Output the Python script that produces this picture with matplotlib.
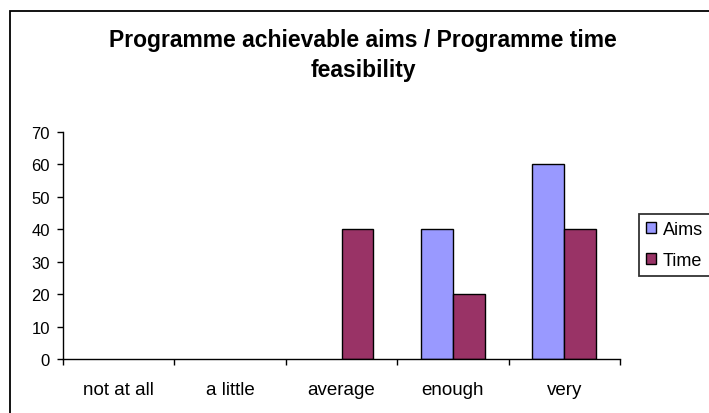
import numpy as np
import matplotlib.pyplot as plt
from matplotlib.patches import Rectangle, Patch

# dados
categories = ["not at all", "a little", "average", "enough", "very"]
aims = [0, 0, 0, 40, 60]
time_vals = [0, 0, 40, 20, 40]

plt.rcParams['font.family'] = ['Liberation Sans', 'DejaVu Sans']

fig = plt.figure(figsize=(7.09, 4.14), dpi=100)
W, H = 709, 414

# borda da área do gráfico (Excel)
fig.patches.append(Rectangle((10 / W, -0.1), 1.2, 1.1 - 12 / H, transform=fig.transFigure,
                             fill=False, edgecolor='black', linewidth=1.3))

ax = fig.add_axes([63 / W, 1 - 360 / H, (620 - 63) / W, (360 - 133) / H])

x = np.arange(len(categories))
bw = 1 / 3.5
b1 = ax.bar(x - bw / 2, aims, bw, color='#9999FF', edgecolor='black', linewidth=1)
b2 = ax.bar(x + bw / 2, time_vals, bw, color='#993366', edgecolor='black', linewidth=1)
# barras de valor zero não aparecem no Excel
for p in list(b1) + list(b2):
    if p.get_height() == 0:
        p.set_visible(False)

ax.set_xlim(-0.5, len(categories) - 0.5)
ax.set_ylim(0, 70)
ax.set_yticks(range(0, 71, 10))
ax.set_xticks(x)
ax.set_xticklabels(categories, fontsize=13.5)
ax.set_xticks(np.arange(-0.5, len(categories)), minor=True)
ax.tick_params(axis='x', which='major', length=0, pad=16)
ax.tick_params(axis='x', which='minor', length=4.5, direction='out', width=1)
ax.tick_params(axis='y', length=4.5, width=1, labelsize=12, pad=5)
for s in ['top', 'right']:
    ax.spines[s].set_visible(False)
ax.spines['left'].set_linewidth(1)
ax.spines['bottom'].set_linewidth(1)

fig.text(363 / W, 1 - 40 / H, "Programme achievable aims / Programme time",
         ha='center', va='center', fontsize=16.5, fontweight='bold')
fig.text(363 / W, 1 - 71 / H, "feasibility",
         ha='center', va='center', fontsize=16.5, fontweight='bold')

handles = [Patch(facecolor='#9999FF', edgecolor='black', linewidth=1, label='Aims'),
           Patch(facecolor='#993366', edgecolor='black', linewidth=1, label='Time')]
leg = fig.legend(handles=handles, loc='center left', bbox_to_anchor=(639 / W, 1 - 246 / H),
                 fontsize=13, frameon=True,
                 fancybox=False, edgecolor='black', handlelength=0.55, handleheight=0.55,
                 handletextpad=0.35, borderpad=0.4, labelspacing=0.8, borderaxespad=0)
leg.get_frame().set_linewidth(1.3)

fig.savefig('out.png', dpi=100)
